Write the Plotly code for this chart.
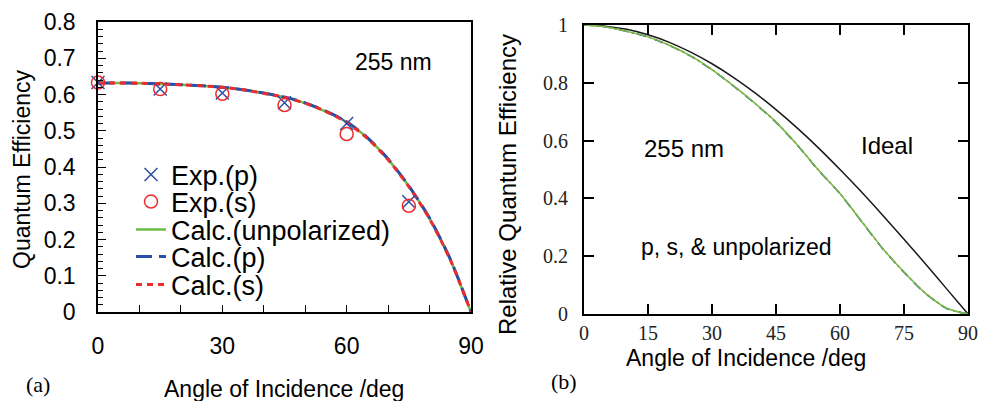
import plotly.graph_objects as go

# ---------------- data ----------------
exp_angles = [0, 15, 30, 45, 60, 75]
exp_p = [0.633, 0.615, 0.604, 0.577, 0.520, 0.304]
exp_s = [0.633, 0.615, 0.602, 0.571, 0.491, 0.293]

calc_angles = [0, 5, 10, 15, 20, 25, 30, 35, 40, 45, 50, 55, 60, 65, 70, 75, 80, 85, 90]
calc_unpol = [0.632, 0.632, 0.631, 0.629, 0.627, 0.624, 0.620, 0.613, 0.604, 0.592,
              0.576, 0.553, 0.524, 0.480, 0.421, 0.347, 0.258, 0.145, 0.000]
calc_p = [0.632, 0.632, 0.631, 0.629, 0.627, 0.624, 0.620, 0.613, 0.604, 0.593,
          0.577, 0.554, 0.525, 0.481, 0.422, 0.348, 0.259, 0.146, 0.000]
calc_s = [0.632, 0.632, 0.631, 0.629, 0.627, 0.624, 0.620, 0.613, 0.603, 0.592,
          0.576, 0.553, 0.523, 0.479, 0.420, 0.346, 0.257, 0.144, 0.000]

rel_angles = calc_angles
rel_unpol = [1.000, 0.994, 0.978, 0.959, 0.930, 0.893, 0.846, 0.790, 0.730, 0.664,
             0.585, 0.497, 0.417, 0.322, 0.227, 0.145, 0.072, 0.020, 0.000]
rel_p = [1.000, 0.994, 0.978, 0.958, 0.929, 0.892, 0.845, 0.789, 0.729, 0.663,
         0.584, 0.496, 0.416, 0.321, 0.226, 0.144, 0.071, 0.019, 0.000]
rel_s = [1.000, 0.994, 0.978, 0.959, 0.930, 0.893, 0.846, 0.790, 0.730, 0.664,
         0.585, 0.497, 0.417, 0.322, 0.227, 0.145, 0.072, 0.020, 0.000]
ideal = [1.000, 0.996, 0.985, 0.966, 0.940, 0.906, 0.866, 0.819, 0.766, 0.707,
         0.643, 0.574, 0.500, 0.423, 0.342, 0.259, 0.174, 0.087, 0.000]

SANS = "Liberation Sans, Arial, sans-serif"
SERIF = "Liberation Serif, Times New Roman, serif"
BLUE = "#2b4ea6"
RED = "#ee2b2b"
GREEN = "#6cbd45"

fig = go.Figure()

# ---------------- left panel ----------------
fig.add_trace(go.Scatter(x=calc_angles, y=calc_unpol, mode="lines", name="Calc.(unpolarized)",
                         line=dict(color=GREEN, width=2.5, shape="spline", smoothing=0.7),
                         xaxis="x", yaxis="y", legend="legend3"))
fig.add_trace(go.Scatter(x=calc_angles, y=calc_p, mode="lines", name="Calc.(p)",
                         line=dict(color=BLUE, width=3, dash="16px,7px", shape="spline", smoothing=0.7),
                         xaxis="x", yaxis="y", legend="legend4"))
fig.add_trace(go.Scatter(x=calc_angles, y=calc_s, mode="lines", name="Calc.(s)",
                         line=dict(color=RED, width=3, dash="6px,5px", shape="spline", smoothing=0.7),
                         xaxis="x", yaxis="y", legend="legend5"))
fig.add_trace(go.Scatter(x=exp_angles, y=exp_p, mode="markers", name="Exp.(p)",
                         marker=dict(symbol="x-thin-open", size=13, color=BLUE, line=dict(color=BLUE, width=1.5)),
                         xaxis="x", yaxis="y", legend="legend", cliponaxis=False))
fig.add_trace(go.Scatter(x=exp_angles, y=exp_s, mode="markers", name="Exp.(s)",
                         marker=dict(symbol="circle-open", size=13, color=RED, line=dict(color=RED, width=1.5)),
                         xaxis="x", yaxis="y", legend="legend2", cliponaxis=False))

# ---------------- right panel ----------------
fig.add_trace(go.Scatter(x=rel_angles, y=ideal, mode="lines", showlegend=False,
                         line=dict(color="#1a1a1a", width=1.5, shape="spline", smoothing=0.7),
                         xaxis="x2", yaxis="y2"))
fig.add_trace(go.Scatter(x=rel_angles, y=rel_s, mode="lines", showlegend=False,
                         line=dict(color=RED, width=1.5, dash="dot", shape="spline", smoothing=0.7),
                         xaxis="x2", yaxis="y2"))
fig.add_trace(go.Scatter(x=rel_angles, y=rel_p, mode="lines", showlegend=False,
                         line=dict(color=BLUE, width=1.5, dash="dash", shape="spline", smoothing=0.7),
                         xaxis="x2", yaxis="y2"))
fig.add_trace(go.Scatter(x=rel_angles, y=rel_unpol, mode="lines", showlegend=False,
                         line=dict(color=GREEN, width=1.5, shape="spline", smoothing=0.7),
                         xaxis="x2", yaxis="y2"))

# the page places the figure 8px from the top-left corner (default body margin)
OFF = 8
W, H = 986 - OFF, 401 - OFF


def px(x):
    return (x - OFF) / W


def py(y):
    return 1 - (y - OFF) / H


def leg(yc):
    return dict(x=px(131), xanchor="left", y=py(yc), yanchor="middle",
                bgcolor="rgba(0,0,0,0)", font=dict(family=SANS, size=27, color="black"),
                itemwidth=30, borderwidth=0)


fig.update_layout(
    width=W, height=H,
    margin=dict(l=0, r=0, t=0, b=0, autoexpand=False),
    paper_bgcolor="white", plot_bgcolor="white",
    legend=leg(175), legend2=leg(202), legend3=leg(230), legend4=leg(257), legend5=leg(285),
    xaxis=dict(domain=[px(98), px(471)], range=[0, 90], anchor="y",
               dtick=30, tick0=0, ticks="inside", ticklen=7, tickwidth=1.2, tickcolor="black",
               minor=dict(dtick=10, ticks="inside", ticklen=7, tickwidth=1.2, tickcolor="black"),
               showgrid=False, zeroline=False, showline=True, linecolor="black", linewidth=1.5, mirror=True,
               tickfont=dict(family=SANS, size=23, color="black"), ticklabelstandoff=13),
    yaxis=dict(domain=[py(312), py(22)], range=[0, 0.8], anchor="x",
               dtick=0.1, tick0=0, ticks="inside", ticklen=8, tickwidth=1.2, tickcolor="black",
               minor=dict(dtick=0.02, ticks="inside", ticklen=5, tickwidth=1.2, tickcolor="black"),
               showgrid=False, zeroline=False, showline=True, linecolor="black", linewidth=1.5, mirror=True,
               tickfont=dict(family=SANS, size=23, color="black"), ticklabelstandoff=16),
    xaxis2=dict(domain=[px(584), px(968)], range=[0, 90], anchor="y2",
                dtick=15, tick0=0, ticks="inside", ticklen=10, tickwidth=2, tickcolor="black",
                showgrid=False, zeroline=False, showline=True, linecolor="black", linewidth=2, mirror="ticks",
                tickfont=dict(family=SERIF, size=20, color="#222"), ticklabelstandoff=0),
    yaxis2=dict(domain=[py(314), py(25)], range=[0, 1], anchor="x2",
                dtick=0.2, tick0=0, ticks="inside", ticklen=10, tickwidth=2, tickcolor="black",
                showgrid=False, zeroline=False, showline=True, linecolor="black", linewidth=2, mirror="ticks",
                tickfont=dict(family=SERIF, size=20, color="#222"), ticklabelstandoff=10),
)

ann = [
    dict(text="255 nm", x=px(393), y=py(62), font=dict(family=SANS, size=23)),
    dict(text="Quantum Efficiency", x=px(22), y=py(169), textangle=-90, font=dict(family=SANS, size=23)),
    dict(text="Angle of Incidence /deg", x=px(284), y=py(389), font=dict(family=SANS, size=23)),
    dict(text="(a)", x=px(38), y=py(384), font=dict(family=SERIF, size=22)),
    dict(text="Relative Quantum Efficiency", x=px(507), y=py(185), textangle=-90, font=dict(family=SANS, size=24)),
    dict(text="Angle of Incidence /deg", x=px(746), y=py(358), font=dict(family=SANS, size=23)),
    dict(text="(b)", x=px(564), y=py(381), font=dict(family=SERIF, size=22)),
    dict(text="255 nm", x=px(684), y=py(148), font=dict(family=SANS, size=24)),
    dict(text="Ideal", x=px(887), y=py(146), font=dict(family=SANS, size=24)),
    dict(text="p, s, &amp; unpolarized", x=px(736), y=py(247), font=dict(family=SANS, size=23)),
]
for a in ann:
    a.update(xref="paper", yref="paper", showarrow=False, xanchor="center", yanchor="middle")
    a["font"]["color"] = "black"
    fig.add_annotation(**a)

fig.write_html("out.html")
